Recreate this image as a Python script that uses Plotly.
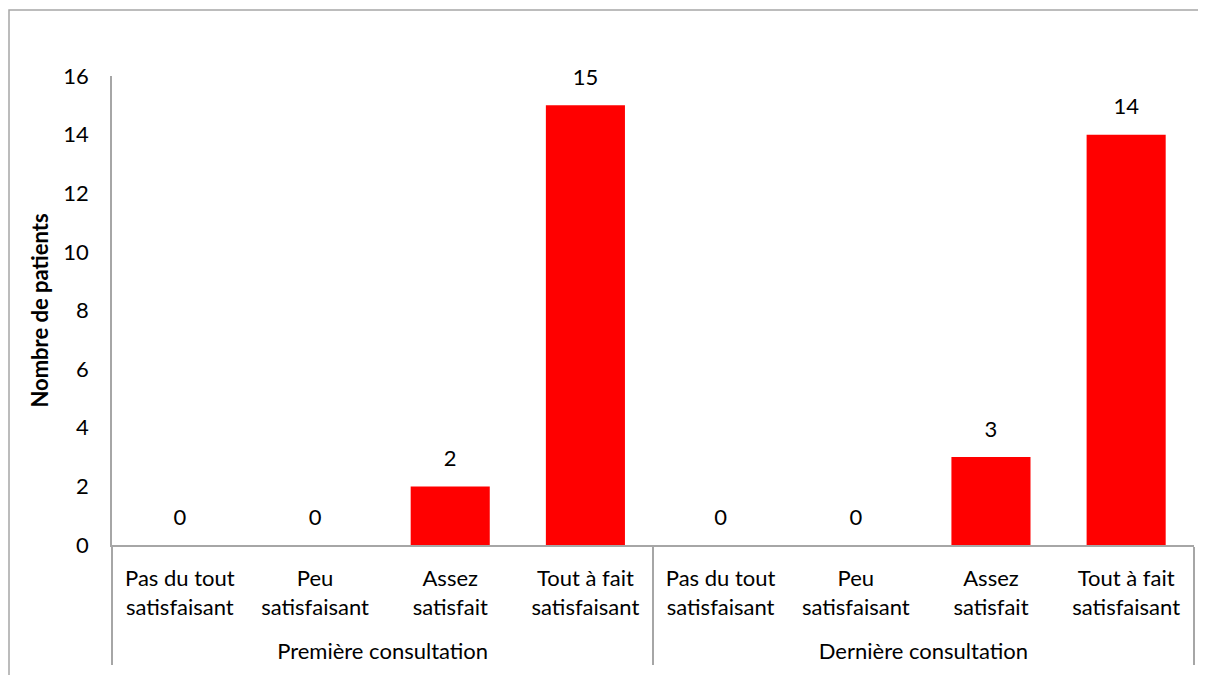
import plotly.graph_objects as go

groups = ["Première consultation"] * 4 + ["Dernière consultation"] * 4
categories = ["Pas du tout<br>satisfaisant", "Peu<br>satisfaisant", "Assez<br>satisfait",
              "Tout à fait<br>satisfaisant"] * 2
values = [0, 0, 2, 15, 0, 0, 3, 14]
y_ticks = [0, 2, 4, 6, 8, 10, 12, 14, 16]

FONT = "Lato"
GRAY = "#A6A6A6"

# the page body has an 8px margin: the figure is sized/placed to fit the window
OFF = 8
W, H = 1206 - OFF, 675 - OFF
L, R, T, B = 112 - OFF, 12, 76 - OFF, 130
pw, ph = W - L - R, H - T - B

cat_text = [c + "<br>&nbsp;" for c in categories]

fig = go.Figure()
fig.add_trace(go.Bar(
    x=[groups, cat_text], y=values,
    marker=dict(color="#FF0000", line=dict(width=0)),
    hoverinfo="skip",
))
fig.add_trace(go.Scatter(
    x=[groups, cat_text], y=values,
    mode="markers+text",
    marker=dict(size=22, color="rgba(0,0,0,0)"),
    text=[str(v) for v in values],
    textposition="top center",
    textfont=dict(family=FONT, size=22, color="black"),
    hoverinfo="skip",
    cliponaxis=False,
))

fig.update_layout(
    width=W, height=H,
    margin=dict(l=L, r=R, t=T, b=B),
    plot_bgcolor="white", paper_bgcolor="white",
    showlegend=False,
    bargap=0.415,
    font=dict(family=FONT, size=22, color="black"),
    xaxis=dict(
        type="multicategory",
        showline=True, linecolor=GRAY, linewidth=1.5,
        showgrid=False, zeroline=False, ticks="",
        showdividers=True, dividercolor=GRAY, dividerwidth=1.5,
        ticklabelstandoff=13,
        tickfont=dict(family=FONT, size=22, color="black"),
    ),
    yaxis=dict(
        range=[0, 16], tickvals=y_ticks,
        showline=True, linecolor=GRAY, linewidth=1.5,
        showgrid=False, zeroline=False, ticks="",
        ticklabelstandoff=17,
        tickfont=dict(family=FONT, size=22, color="black"),
        title=dict(text="<b>Nombre de patients</b>", font=dict(family=FONT, size=22, color="black"),
                   standoff=9),
    ),
    shapes=[dict(
        type="rect", xref="paper", yref="paper",
        x0=(9 - OFF - L) / pw, x1=(1240 - OFF - L) / pw,
        y0=(T + ph - 760) / ph, y1=(T + ph - (10 - OFF)) / ph,
        line=dict(color=GRAY, width=1.5), fillcolor="rgba(0,0,0,0)", layer="below",
    )],
)

fig.write_html("out.html")
